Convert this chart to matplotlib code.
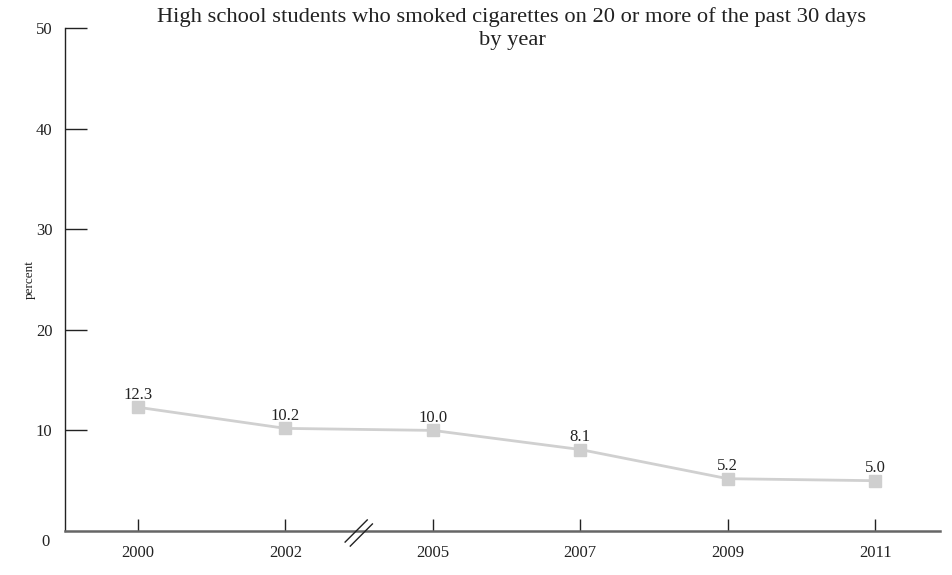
import matplotlib
matplotlib.use("Agg")
import matplotlib.pyplot as plt

years = ["2000", "2002", "2005", "2007", "2009", "2011"]
values = [12.3, 10.2, 10.0, 8.1, 5.2, 5.0]
value_labels = ["12.3", "10.2", "10.0", "8.1", "5.2", "5.0"]
y_ticks = [10, 20, 30, 40, 50]

plt.rcParams['font.family'] = ['Liberation Serif', 'DejaVu Serif']

fig = plt.figure(figsize=(9.52, 5.75), dpi=100)
ax = fig.add_axes([65/952, 1-531/575, (940-65)/952, (531-28)/575])

x = list(range(len(years)))
ax.plot(x, values, color='#d0d0d0', lw=2, marker='s', ms=8, mfc='#cfcfcf', mec='#cfcfcf', zorder=3)
for xi, v, lab in zip(x, values, value_labels):
    ax.annotate(lab, (xi, v), xytext=(0, 6), textcoords='offset points',
                ha='center', va='baseline', fontsize=12, color='#222222')

ax.set_xlim(-0.495, 5.44)
ax.set_ylim(0, 50)
ax.set_xticks(x)
ax.set_xticklabels(years, fontsize=12, color='#222222')
ax.set_yticks(y_ticks)
ax.set_yticklabels([str(t) for t in y_ticks], fontsize=12, color='#222222')
ax.tick_params(axis='y', direction='in', length=16, width=1, color='#222222', pad=9)
ax.tick_params(axis='x', direction='in', length=9, width=1, color='#222222', pad=10)
ax.annotate("0", (0, 0), xycoords='axes fraction', xytext=(-11, -8), textcoords='offset points',
            ha='right', va='center', fontsize=12, color='#222222')

for s in ['top', 'right']:
    ax.spines[s].set_visible(False)
ax.spines['left'].set_color('#222222')
ax.spines['left'].set_linewidth(1)
ax.spines['bottom'].set_color('#666666')
ax.spines['bottom'].set_linewidth(1.8)

# axis break marks between 2002 and 2005
ax.plot([1.405, 1.555], [-1.1, 1.1], color='#222222', lw=1, clip_on=False, zorder=4)
ax.plot([1.44, 1.59], [-1.5, 0.7], color='#222222', lw=1, clip_on=False, zorder=4)

ax.set_ylabel("percent", fontsize=9.5, color='#222222', labelpad=0)

fig.text(512/952, 1-7/575, "High school students who smoked cigarettes on 20 or more of the past 30 days\nby year",
         ha='center', va='top', fontsize=16.2, color='#222222', linespacing=1.28)

fig.savefig("out.png", dpi=100)
